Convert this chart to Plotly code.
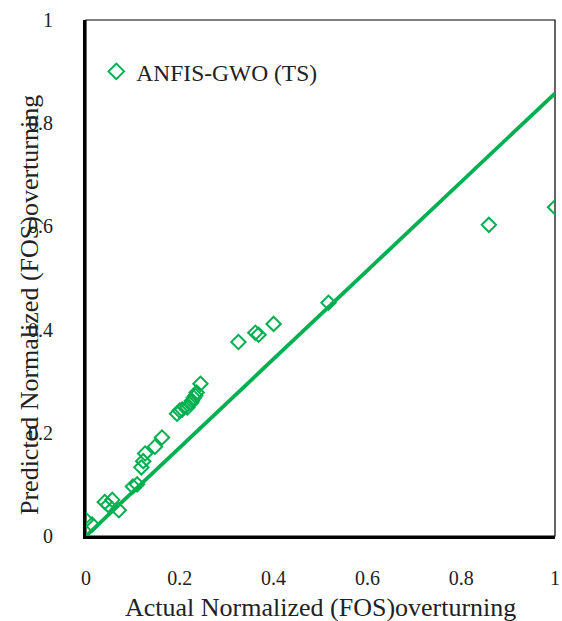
import plotly.graph_objects as go

actual = [0.000, 0.013, 0.040, 0.047, 0.056, 0.070, 0.100, 0.109, 0.118, 0.122, 0.126,
          0.147, 0.162, 0.194, 0.200, 0.205, 0.216, 0.224, 0.226, 0.230, 0.233, 0.236, 0.244,
          0.325, 0.361, 0.368, 0.400, 0.517, 0.859, 1.000]
predicted = [0.031, 0.022, 0.066, 0.060, 0.070, 0.050, 0.096, 0.100, 0.133, 0.145, 0.160,
             0.173, 0.191, 0.237, 0.243, 0.245, 0.249, 0.258, 0.262, 0.268, 0.272, 0.278, 0.295,
             0.376, 0.394, 0.390, 0.411, 0.452, 0.603, 0.637]
fit_x = [0.0, 1.0]
fit_y = [0.0, 0.858]

series_name = "ANFIS-GWO (TS)"
x_title = "Actual Normalized (FOS)overturning"
y_title = "Predicted Normalized (FOS)overturning"
tick_vals = [0, 0.2, 0.4, 0.6, 0.8, 1]
tick_text = ["0", "0.2", "0.4", "0.6", "0.8", "1"]

green = "#00B050"
font_family = "Liberation Serif, Times New Roman, serif"

fig = go.Figure()
fig.add_trace(go.Scatter(
    x=fit_x, y=fit_y, mode="lines", line=dict(color=green, width=3.8),
    showlegend=False, hoverinfo="skip"))
fig.add_trace(go.Scatter(
    x=actual, y=predicted, mode="markers", name=series_name,
    marker=dict(symbol="diamond-open", size=11, color=green, line=dict(width=2, color=green))))

fig.update_layout(
    width=562, height=621,
    margin=dict(l=86, r=7, t=20, b=85),
    paper_bgcolor="white", plot_bgcolor="white",
    font=dict(family=font_family, color="#222", size=20),
    showlegend=True,
    legend=dict(x=0.022, y=0.90, xanchor="left", yanchor="middle",
                bgcolor="rgba(0,0,0,0)", font=dict(size=23.5, family=font_family),
                itemsizing="constant"),
    xaxis=dict(range=[0, 1], tickvals=tick_vals, ticktext=tick_text, showgrid=False,
               zeroline=False, showline=True, linecolor="black", linewidth=3,
               ticks="", ticklabelstandoff=22, tickfont=dict(size=20), automargin=False),
    yaxis=dict(range=[0, 1], tickvals=tick_vals, ticktext=tick_text, showgrid=False,
               zeroline=False, showline=True, linecolor="black", linewidth=3,
               ticks="", ticklabelstandoff=26, tickfont=dict(size=20), automargin=False),
    annotations=[
        dict(text=y_title, x=-0.119, y=0.448, xref="paper", yref="paper",
             textangle=-90, showarrow=False, font=dict(size=26),
             xanchor="center", yanchor="middle"),
        dict(text=x_title, x=0.5, y=-0.138, xref="paper", yref="paper",
             showarrow=False, font=dict(size=26),
             xanchor="center", yanchor="middle"),
    ],
    shapes=[dict(type="rect", xref="paper", yref="paper", x0=0, y0=0, x1=1, y1=1,
                 line=dict(color="black", width=1.2), layer="below")],
)

fig.write_html("out.html")
